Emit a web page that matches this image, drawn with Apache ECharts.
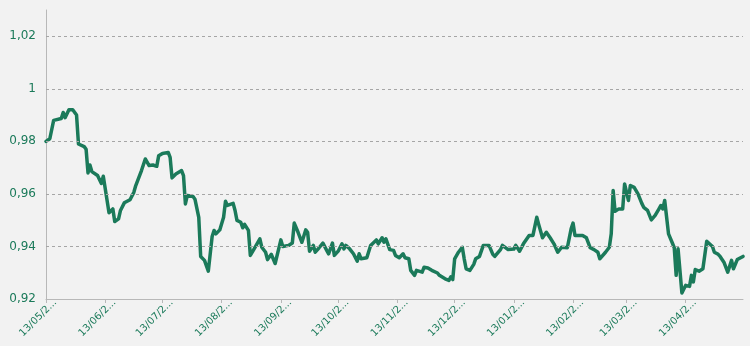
<!DOCTYPE html>
<html>
<head>
<meta charset="utf-8">
<script src="https://cdn.jsdelivr.net/npm/echarts@6/dist/echarts.min.js"></script>
<style>
  html, body { margin: 0; padding: 0; background: #f2f2f2; }
  #chart { width: 750px; height: 346px; }
</style>
</head>
<body>
<div id="chart"></div>
<script>
// Daily quote, day offsets counted from 13/05/2013
const days = [
  0, 2, 4, 8, 9, 10, 12, 14, 16, 17, 20, 21, 22, 23, 24, 27, 29, 30, 33, 35,
  36, 38, 39, 41, 44, 45, 46, 47, 50, 52, 54, 56, 58, 59, 61, 64, 65, 66, 68, 71,
  72, 73, 74, 77, 78, 80, 81, 83, 85, 87, 88, 89, 91, 93, 94, 95, 98, 99, 100, 102,
  103, 104, 106, 107, 109, 112, 113, 115, 116, 118, 120, 123, 124, 127, 129, 130, 132, 134, 136, 137,
  138, 140, 141, 143, 145, 147, 148, 150, 151, 153, 155, 156, 157, 159, 161, 163, 164, 165, 168, 170,
  173, 174, 176, 177, 178, 180, 182, 183, 184, 185, 187, 188, 190, 191, 193, 194, 197, 198, 200, 202,
  203, 205, 206, 209, 211, 212, 213, 214, 216, 218, 219, 220, 222, 224, 225, 227, 228, 229, 232, 233,
  234, 235, 238, 239, 242, 245, 246, 248, 250, 253, 254, 255, 257, 258, 260, 262, 264, 266, 268, 270,
  273, 274, 275, 276, 277, 278, 281, 283, 285, 287, 289, 290, 293, 295, 296, 297, 298, 300, 302, 303,
  305, 306, 308, 310, 312, 313, 315, 317, 319, 321, 322, 323, 324, 326, 328, 329, 330, 331, 333, 335,
  337, 338, 339, 340, 342, 344, 346, 349, 350, 352, 353, 355, 357, 359, 360, 362, 365
];
const quotes = [
  0.9800, 0.9810, 0.9880, 0.9887, 0.9910, 0.9890, 0.9920, 0.9920, 0.9900, 0.9790, 0.9780, 0.9770, 0.9680, 0.9710, 0.9685, 0.9670, 0.9640, 0.9667, 0.9528, 0.9543,
  0.9495, 0.9505, 0.9537, 0.9566, 0.9578, 0.9580, 0.9606, 0.9632, 0.9689, 0.9733, 0.9708, 0.9710, 0.9705, 0.9745, 0.9754, 0.9758, 0.9739, 0.9661, 0.9676, 0.9689,
  0.9670, 0.9562, 0.9594, 0.9590, 0.9580, 0.9511, 0.9362, 0.9347, 0.9306, 0.9438, 0.9461, 0.9448, 0.9463, 0.9511, 0.9572, 0.9556, 0.9564, 0.9537, 0.9499, 0.9492,
  0.9471, 0.9484, 0.9461, 0.9366, 0.9391, 0.9429, 0.9397, 0.9378, 0.9350, 0.9370, 0.9335, 0.9425, 0.9400, 0.9404, 0.9413, 0.9489, 0.9454, 0.9416, 0.9463, 0.9454,
  0.9382, 0.9404, 0.9378, 0.9395, 0.9413, 0.9385, 0.9372, 0.9413, 0.9366, 0.9382, 0.9410, 0.9391, 0.9404, 0.9391, 0.9372, 0.9344, 0.9372, 0.9353, 0.9357, 0.9404,
  0.9425, 0.9410, 0.9433, 0.9416, 0.9429, 0.9388, 0.9385, 0.9366, 0.9372, 0.9357, 0.9372, 0.9357, 0.9353, 0.9309, 0.9290, 0.9309, 0.9302, 0.9321, 0.9318, 0.9309,
  0.9315, 0.9299, 0.9290, 0.9277, 0.9271, 0.9284, 0.9274, 0.9353, 0.9378, 0.9397, 0.9353, 0.9315, 0.9309, 0.9332, 0.9353, 0.9362, 0.9366, 0.9404, 0.9404, 0.9404,
  0.9370, 0.9362, 0.9388, 0.9404, 0.9388, 0.9390, 0.9404, 0.9382, 0.9410, 0.9442, 0.9448, 0.9442, 0.9511, 0.9484, 0.9433, 0.9454, 0.9433, 0.9410, 0.9378, 0.9397,
  0.9395, 0.9395, 0.9467, 0.9489, 0.9442, 0.9438, 0.9442, 0.9433, 0.9395, 0.9388, 0.9378, 0.9353, 0.9378, 0.9397, 0.9448, 0.9613, 0.9534, 0.9543, 0.9543, 0.9638,
  0.9575, 0.9632, 0.9625, 0.9600, 0.9564, 0.9549, 0.9537, 0.9501, 0.9518, 0.9543, 0.9556, 0.9543, 0.9575, 0.9448, 0.9413, 0.9395, 0.9290, 0.9391, 0.9223, 0.9252,
  0.9248, 0.9290, 0.9265, 0.9312, 0.9306, 0.9315, 0.9420, 0.9400, 0.9378, 0.9370, 0.9362, 0.9340, 0.9302, 0.9347, 0.9315, 0.9350, 0.9362
];

// Monthly ticks on the date axis
const tickDays = [0, 31, 61, 92, 123, 153, 184, 214, 245, 276, 304, 335];
const tickLabels = [
  '13/05/2013', '13/06/2013', '13/07/2013', '13/08/2013', '13/09/2013', '13/10/2013',
  '13/11/2013', '13/12/2013', '13/01/2014', '13/02/2014', '13/03/2014', '13/04/2014'
];

// Value axis gridlines and labels
const yTicks = [0.92, 0.94, 0.96, 0.98, 1.00, 1.02];
const yLabels = ['0,92', '0,94', '0,96', '0,98', '1', '1,02'];

const green = '#1b7a5a';
const points = days.map((d, i) => [d, quotes[i]]);

const chart = echarts.init(document.getElementById('chart'));
chart.setOption({
  backgroundColor: '#f2f2f2',
  animation: false,
  grid: { left: 46, right: 7, top: 10, bottom: 47 },
  xAxis: {
    type: 'value',
    min: 0,
    max: 365,
    axisLine: { show: true, lineStyle: { color: '#b8b8b8', width: 1 } },
    axisTick: {
      show: true, length: 4, inside: false, customValues: tickDays,
      lineStyle: { color: '#b8b8b8' }
    },
    splitLine: { show: false },
    axisLabel: {
      customValues: tickDays,
      rotate: 45,
      margin: 4,
      color: green,
      fontFamily: 'DejaVu Sans',
      fontSize: 10,
      width: 50,
      overflow: 'truncate',
      ellipsis: '...',
      verticalAlign: 'top',
      padding: [0, -8, 0, 0],
      formatter: (v) => tickLabels[tickDays.indexOf(Math.round(v))] || ''
    }
  },
  yAxis: {
    type: 'value',
    min: 0.92,
    max: 1.03,
    axisLine: { show: true, lineStyle: { color: '#b8b8b8', width: 1 } },
    axisTick: { show: false },
    splitLine: { show: false },
    axisLabel: {
      customValues: yTicks,
      color: green,
      fontFamily: 'DejaVu Sans',
      fontSize: 12,
      margin: 10,
      formatter: (v) => {
        const i = yTicks.findIndex(t => Math.abs(t - v) < 1e-6);
        return i >= 0 ? yLabels[i] : '';
      }
    }
  },
  series: [{
    type: 'line',
    data: points,
    showSymbol: false,
    symbol: 'none',
    lineStyle: { color: green, width: 3.5, join: 'round', cap: 'round' },
    markLine: {
      silent: true,
      symbol: ['none', 'none'],
      label: { show: false },
      lineStyle: { color: '#a6a6a6', type: [3, 3], width: 1 },
      emphasis: { disabled: true },
      data: yTicks.slice(1).map(v => ({ yAxis: v }))
    },
    z: 3
  }]
});
</script>
</body>
</html>
